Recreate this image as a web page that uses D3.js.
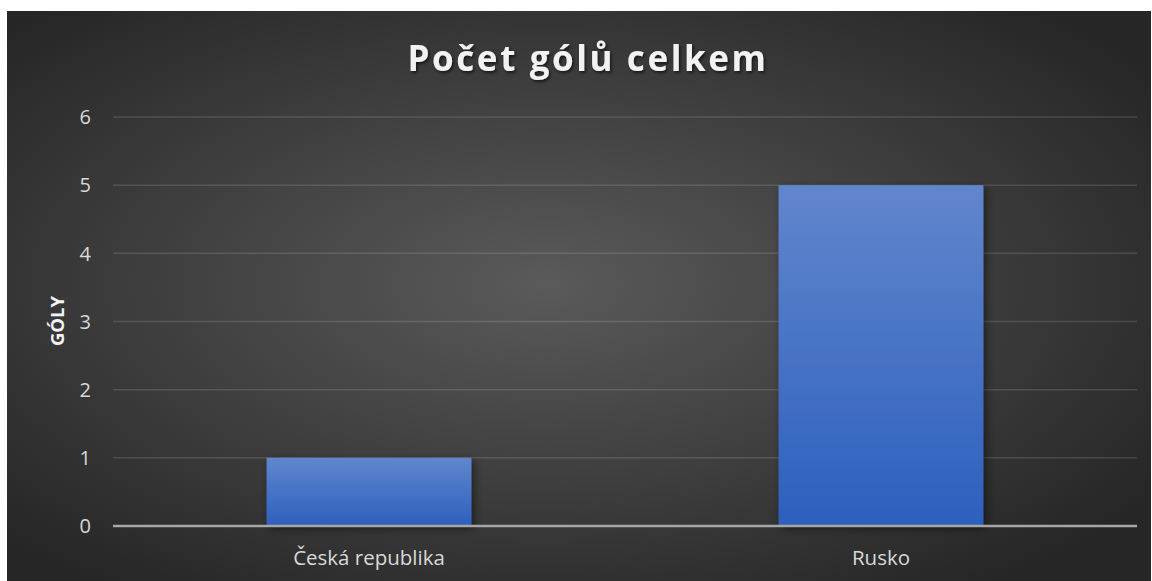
<!DOCTYPE html>
<html lang="cs">
<head>
<meta charset="UTF-8">
<script src="https://d3js.org/d3.v7.min.js"></script>
<title>Počet gólů celkem</title>
<style>
  html, body { margin: 0; padding: 0; background: #fff; }
  svg { display: block; }
  text { font-family: "Open Sans", Lato, sans-serif; }
</style>
</head>
<body>
<svg width="1152" height="581"></svg>
<script>
  // data
  const categories = ["Česká republika", "Rusko"]
  const goals = [1, 5]
  const yTicks = [0, 1, 2, 3, 4, 5, 6]
  const title = "Počet gólů celkem"
  const yTitle = "GÓLY"

  const W = 1152, H = 581
  const frame = { x: 7, y: 11 }
  const plot = { left: 113, right: 1137, top: 117, bottom: 526 }

  const svg = d3.select("svg")
  const defs = svg.append("defs")

  const bg = defs.append("radialGradient")
    .attr("id", "bg").attr("cx", "47%").attr("cy", "48%").attr("r", "65%")
  bg.append("stop").attr("offset", "0%").attr("stop-color", "#5a5a5a")
  bg.append("stop").attr("offset", "100%").attr("stop-color", "#262626")

  const barGrad = defs.append("linearGradient")
    .attr("id", "barGrad").attr("x1", 0).attr("y1", 0).attr("x2", 0).attr("y2", 1)
  barGrad.append("stop").attr("offset", "0%").attr("stop-color", "#6186cd")
  barGrad.append("stop").attr("offset", "100%").attr("stop-color", "#2d5fbd")

  const shadow = defs.append("filter").attr("id", "shadow")
    .attr("x", "-10%").attr("y", "-10%").attr("width", "130%").attr("height", "130%")
  shadow.append("feDropShadow").attr("dx", 3).attr("dy", 3).attr("stdDeviation", 4)
    .attr("flood-color", "#000").attr("flood-opacity", 0.45)

  const tshadow = defs.append("filter").attr("id", "tshadow")
  tshadow.append("feDropShadow").attr("dx", 1.5).attr("dy", 2).attr("stdDeviation", 1.5)
    .attr("flood-color", "#000").attr("flood-opacity", 0.6)

  svg.append("rect")
    .attr("x", frame.x).attr("y", frame.y)
    .attr("width", W - frame.x - 1).attr("height", H - frame.y)
    .attr("fill", "url(#bg)")

  const x = d3.scaleBand()
    .domain(categories)
    .range([plot.left, plot.right])
    .paddingInner(0.6)
    .paddingOuter(0.3)

  const y = d3.scaleLinear()
    .domain([0, 6])
    .range([plot.bottom, plot.top])

  // gridlines
  svg.append("g")
    .selectAll("line")
    .data(yTicks.filter(d => d > 0))
    .join("line")
    .attr("x1", plot.left).attr("x2", plot.right)
    .attr("y1", d => y(d)).attr("y2", d => y(d))
    .attr("stroke", "#ffffff").attr("stroke-opacity", 0.13).attr("stroke-width", 1.5)

  // y tick labels
  svg.append("g")
    .selectAll("text")
    .data(yTicks)
    .join("text")
    .attr("x", 91).attr("y", d => y(d))
    .attr("dy", "0.36em")
    .attr("text-anchor", "end")
    .attr("font-size", 20)
    .attr("fill", "#d9d9d9")
    .text(d => d)

  // bars
  svg.append("g")
    .selectAll("rect")
    .data(goals)
    .join("rect")
    .attr("x", (d, i) => x(categories[i]))
    .attr("y", d => y(d))
    .attr("width", x.bandwidth())
    .attr("height", d => y(0) - y(d))
    .attr("fill", "url(#barGrad)")
    .attr("filter", "url(#shadow)")

  // baseline
  svg.append("line")
    .attr("x1", plot.left).attr("x2", plot.right)
    .attr("y1", y(0)).attr("y2", y(0))
    .attr("stroke", "#a6a6a6").attr("stroke-width", 2.5)

  // category labels
  svg.append("g")
    .selectAll("text")
    .data(categories)
    .join("text")
    .attr("x", d => x(d) + x.bandwidth() / 2)
    .attr("y", 565)
    .attr("text-anchor", "middle")
    .attr("font-size", 20.5)
    .attr("fill", "#d9d9d9")
    .text(d => d)

  // title
  svg.append("text")
    .attr("x", 588).attr("y", 71)
    .attr("text-anchor", "middle")
    .attr("font-size", 35)
    .attr("font-weight", "bold")
    .attr("letter-spacing", 2.6)
    .attr("fill", "#f2f2f2")
    .attr("filter", "url(#tshadow)")
    .text(title)

  // y axis title
  svg.append("text")
    .attr("transform", "translate(64,321) rotate(-90)")
    .attr("text-anchor", "middle")
    .attr("font-size", 18.5)
    .attr("font-weight", "bold")
    .attr("fill", "#f2f2f2")
    .text(yTitle)
</script>
</body>
</html>
